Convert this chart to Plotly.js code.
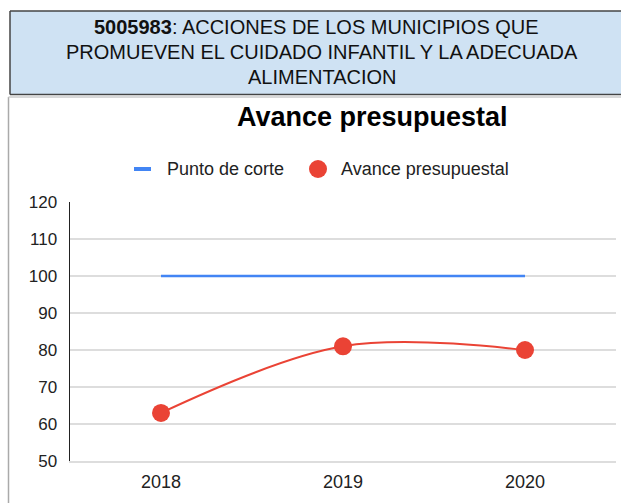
<!DOCTYPE html>
<html><head><meta charset="utf-8">
<script src="https://cdn.plot.ly/plotly-3.0.1.min.js"></script>
<style>html,body{margin:0;padding:0;background:#fff;overflow:hidden}#chart{width:621px;height:503px}</style>
</head><body><div id="chart"></div>
<script>
const years = ["2018", "2019", "2020"];
const avance = [63, 81, 80];
const corte = [100, 100, 100];
const yTicks = [50, 60, 70, 80, 90, 100, 110, 120];
const seriesNames = ["Punto de corte", "Avance presupuestal"];

const traces = [
  {x: years, y: corte, type: "scatter", mode: "lines", name: seriesNames[0],
   line: {color: "#4285f4", width: 2.5}, hoverinfo: "skip", showlegend: false},
  {x: years, y: avance, type: "scatter", mode: "lines+markers", name: seriesNames[1],
   line: {color: "#ea4335", width: 2, shape: "spline", smoothing: 1},
   marker: {color: "#ea4335", size: 18}, showlegend: false}
];

// pixel -> paper helpers (plot area: x 70..616, y 202..461)
const L = 70, W = 546, T = 202, H = 259;
const px = v => (v - L) / W;
const py = v => 1 - (v - T) / H;

const layout = {
  width: 621, height: 503,
  margin: {l: 70, r: 5, t: 202, b: 42},
  paper_bgcolor: "#fff", plot_bgcolor: "#fff",
  font: {family: "Liberation Sans, Arial, sans-serif", color: "#222"},
  showlegend: false,
  xaxis: {type: "category", range: [-0.5, 2.5], showgrid: false, zeroline: false,
          showline: true, linecolor: "#dddddd", linewidth: 1.5, ticks: "",
          tickfont: {size: 18, color: "#222"}, ticklabelstandoff: 4},
  yaxis: {range: [50, 120], tickvals: yTicks, ticktext: yTicks.map(String),
          showgrid: true, gridcolor: "#dddddd", gridwidth: 1.5, zeroline: false,
          showline: true, linecolor: "#222", linewidth: 1.5, ticks: "",
          tickfont: {size: 17, color: "#222"}, ticklabelstandoff: 8},
  shapes: [
    {type: "line", xref: "paper", yref: "paper", x0: px(8.5), x1: px(8.5), y0: py(97), y1: py(503),
     line: {color: "#aaaaaa", width: 1.5}},
    {type: "line", xref: "paper", yref: "paper", x0: px(8.5), x1: px(621), y0: py(97), y1: py(97),
     line: {color: "#cccccc", width: 1.5}},
    {type: "rect", xref: "paper", yref: "paper", x0: px(10), x1: px(621), y0: py(11), y1: py(94.5),
     line: {width: 0}, fillcolor: "#cfe2f3"},
    {type: "line", xref: "paper", yref: "paper", x0: px(10), x1: px(621), y0: py(11), y1: py(11),
     line: {color: "#444444", width: 1.5}},
    {type: "line", xref: "paper", yref: "paper", x0: px(10), x1: px(621), y0: py(94.5), y1: py(94.5),
     line: {color: "#444444", width: 1.5}},
    {type: "line", xref: "paper", yref: "paper", x0: px(10), x1: px(10), y0: py(11), y1: py(94.5),
     line: {color: "#444444", width: 1.5}},
    {type: "line", xref: "paper", yref: "paper", x0: px(134), x1: px(151), y0: py(169), y1: py(169),
     line: {color: "#4285f4", width: 4}},
    {type: "circle", xref: "paper", yref: "paper", x0: px(309), x1: px(327), y0: py(160), y1: py(178),
     line: {color: "#ea4335", width: 0}, fillcolor: "#ea4335"}
  ],
  annotations: [
    {xref: "paper", yref: "paper", x: px(316), y: py(27), xanchor: "center", yanchor: "middle",
     showarrow: false, font: {size: 20, color: "#111"},
     text: "<b>5005983</b>: ACCIONES DE LOS MUNICIPIOS QUE"},
    {xref: "paper", yref: "paper", x: px(322), y: py(52), xanchor: "center", yanchor: "middle",
     showarrow: false, font: {size: 20, color: "#111"},
     text: "PROMUEVEN EL CUIDADO INFANTIL Y LA ADECUADA"},
    {xref: "paper", yref: "paper", x: px(322), y: py(77), xanchor: "center", yanchor: "middle",
     showarrow: false, font: {size: 20, color: "#111"},
     text: "ALIMENTACION"},
    {xref: "paper", yref: "paper", x: px(372), y: py(117), xanchor: "center", yanchor: "middle",
     showarrow: false, font: {size: 27, color: "#000"},
     text: "<b>Avance presupuestal</b>"},
    {xref: "paper", yref: "paper", x: px(165), y: py(169), xanchor: "left", yanchor: "middle",
     showarrow: false, font: {size: 18, color: "#222"}, text: seriesNames[0]},
    {xref: "paper", yref: "paper", x: px(339), y: py(169), xanchor: "left", yanchor: "middle",
     showarrow: false, font: {size: 18, color: "#222"}, text: seriesNames[1]}
  ]
};

Plotly.newPlot("chart", traces, layout, {displayModeBar: false, staticPlot: true});
</script></body></html>
